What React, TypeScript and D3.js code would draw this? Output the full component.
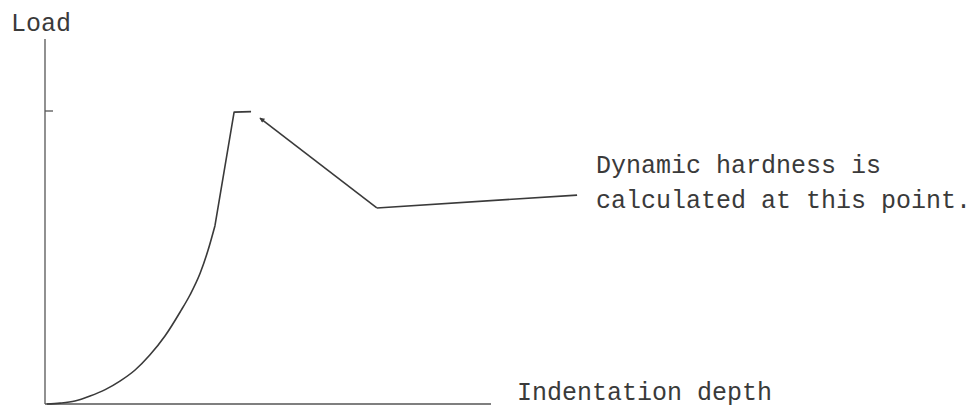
import React from 'react';
import * as d3 from 'd3';

const W = 972;
const H = 407;

// Load (%) versus indentation depth (%), schematic loading / unloading cycle
const loadingCurve: [number, number][] = [
  [0.4, 0], [3.4, 0.3], [6.7, 1.0], [10.1, 2.7], [13.5, 4.9], [16.8, 7.8],
  [20.2, 11.6], [23.5, 16.7], [26.9, 23.2], [30.3, 31.4], [32.5, 37.2],
  [34.8, 44.7], [36.5, 52.2], [38.1, 60.8],
];
const loadingRise: [number, number][] = [[38.1, 60.8], [42.4, 99.6], [46.2, 99.8]];
const unloading: [number, number][] = [[48.2, 97.6], [74.4, 66.9]];
const leader: [number, number][] = [[74.4, 66.9], [119.3, 71.3]];
const peakLoad = 100;
const yAxisTop = 124.6;
const xAxisEnd = 100;

const yLabel = 'Load';
const xLabel = 'Indentation depth';
const noteLines = ['Dynamic hardness is', 'calculated at this point.'];

const FONT = '"Liberation Mono", "DejaVu Sans Mono", monospace';
const INK = '#3a3a3a';

export default function App() {
  const x = d3.scaleLinear().domain([0, 100]).range([45, 491]);
  const y = d3.scaleLinear().domain([0, 100]).range([404, 111]);

  const smooth = d3.line<[number, number]>()
    .x((d) => x(d[0]))
    .y((d) => y(d[1]))
    .curve(d3.curveMonotoneX);
  const straight = d3.line<[number, number]>()
    .x((d) => x(d[0]))
    .y((d) => y(d[1]));

  const text = (s: string, tx: number, ty: number, key?: string) => (
    <text
      key={key}
      transform={`translate(${tx},${ty}) scale(1,1.05)`}
      fontFamily={FONT}
      fontSize={25}
      fill={INK}
    >
      {s}
    </text>
  );

  return (
    <svg
      width={W}
      height={H}
      viewBox={`0 0 ${W} ${H}`}
      style={{ position: 'absolute', left: 0, top: 0, background: '#fff' }}
    >
      <defs>
        <marker
          id="tip"
          viewBox="0 0 10 10"
          refX="9"
          refY="5"
          markerWidth="7"
          markerHeight="5"
          markerUnits="userSpaceOnUse"
          orient="auto-start-reverse"
        >
          <path d="M0,0 L10,5 L0,10 z" fill={INK} />
        </marker>
      </defs>

      {/* axes */}
      <g stroke="#555" strokeWidth={1.3} fill="none">
        <line x1={x(0)} y1={y(0)} x2={x(0)} y2={y(yAxisTop)} />
        <line x1={x(0)} y1={y(0)} x2={x(xAxisEnd)} y2={y(0)} />
        <line x1={x(0)} y1={y(peakLoad)} x2={x(0) + 8} y2={y(peakLoad)} />
      </g>

      {/* load–depth trace */}
      <g stroke={INK} strokeWidth={1.6} fill="none" strokeLinejoin="round">
        <path d={smooth(loadingCurve) ?? ''} />
        <path d={straight(loadingRise) ?? ''} />
        <path d={straight(unloading) ?? ''} markerStart="url(#tip)" />
        <path d={straight(leader) ?? ''} />
      </g>

      {text(yLabel, 11, 31)}
      {text(xLabel, 517, 400)}
      {noteLines.map((s, i) => text(s, 596, 173 + i * 35, `n${i}`))}
    </svg>
  );
}
